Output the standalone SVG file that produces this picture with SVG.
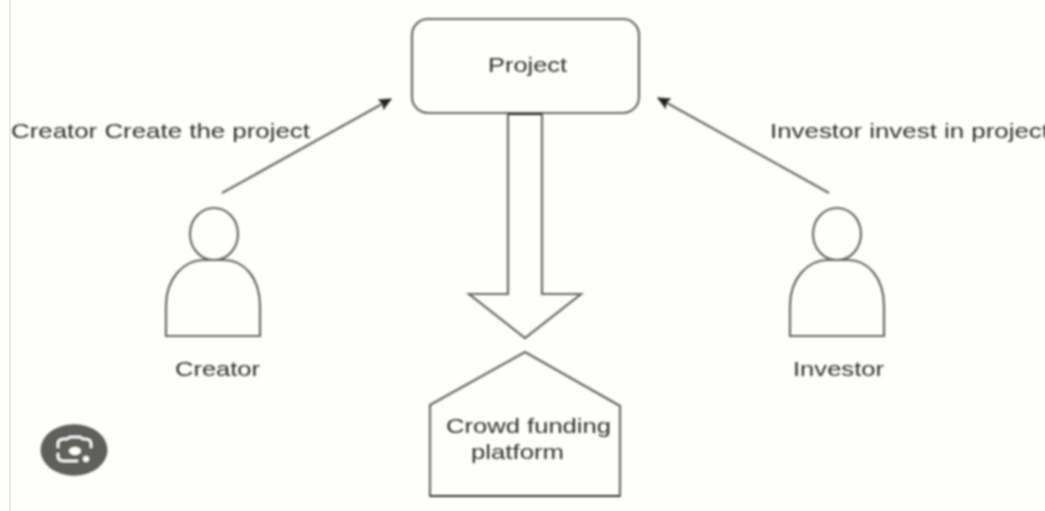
<svg xmlns="http://www.w3.org/2000/svg" width="1045" height="511" viewBox="0 0 1045 511">
<style>
.s{fill:none;stroke:#666;stroke-width:2.200}
.t{font-family:"Liberation Sans",Arial,sans-serif;font-size:21px;fill:#2e2e2e}
.c{stroke:#6a6a6a;stroke-width:2.200;fill:none}
</style>
<defs>
<marker id="a" markerUnits="userSpaceOnUse" markerWidth="14" markerHeight="14" refX="12" refY="6" orient="auto"><path d="M0 0L13 6L0 12L2 6Z" fill="#222"/></marker>
<filter id="b" x="0" y="0" width="100%" height="100%" filterUnits="userSpaceOnUse" primitiveUnits="userSpaceOnUse"><feGaussianBlur stdDeviation="0.8"/></filter>
</defs>
<rect width="1045" height="511" fill="#fefefb"/>
<rect x="9" y="0" width="2" height="511" fill="#eaeaea"/>
<g filter="url(#b)">
<g id="connectors">
<path class="c" d="M222 193L391 99" marker-end="url(#a)"/>
<path class="c" d="M829 193L658 98" marker-end="url(#a)"/>
</g>
<g id="project">
<rect class="s" x="412" y="19" width="227" height="94" rx="16"/>
<text class="t" x="488" y="72" textLength="79" lengthAdjust="spacingAndGlyphs">Project</text>
</g>
<g id="flow-arrow">
<path class="s" d="M508 114V294H469L525 338L581 294H542V114"/>
<path d="M508 114H542" stroke="#222" stroke-width="2.200" fill="none"/>
</g>
<g id="platform">
<path class="s" d="M430 405L525 352L620 406V496H430Z"/>
<path d="M430 496H620" stroke="#333" stroke-width="2.200" fill="none"/>
<text class="t" x="446" y="433" textLength="165" lengthAdjust="spacingAndGlyphs">Crowd funding</text>
<text class="t" x="471" y="459" textLength="93" lengthAdjust="spacingAndGlyphs">platform</text>
</g>
<g id="creator">
<ellipse class="s" cx="214" cy="234" rx="24" ry="26"/>
<path class="s" d="M166 336V306C166 278 184 260 204 260H224C244 260 260 278 260 306V336Z"/>
<text class="t" x="175" y="376" textLength="85" lengthAdjust="spacingAndGlyphs">Creator</text>
</g>
<g id="investor">
<ellipse class="s" cx="837" cy="234" rx="24" ry="26"/>
<path class="s" d="M790 336V306C790 278 808 260 828 260H848C868 260 884 278 884 306V336Z"/>
<text class="t" x="793" y="376" textLength="91" lengthAdjust="spacingAndGlyphs">Investor</text>
</g>
<text class="t" x="11" y="138" textLength="299" lengthAdjust="spacingAndGlyphs">Creator Create the project</text>
<text class="t" x="770" y="138" textLength="279" lengthAdjust="spacingAndGlyphs">Investor invest in project</text>
<g id="lens">
<ellipse cx="74" cy="450" rx="33.500" ry="25.700" fill="#5f5f5d"/>
<path d="M58 448V444Q58 439 64 439H67L70 437H80L83 439H85Q91 439 91 444V448M58 453V456Q58 461 64 461H78" fill="none" stroke="#fff" stroke-width="2.500"/>
<ellipse cx="75" cy="451" rx="6" ry="4" fill="#fff"/>
<circle cx="86" cy="459" r="3" fill="#fff"/>
</g>
</g>
</svg>
